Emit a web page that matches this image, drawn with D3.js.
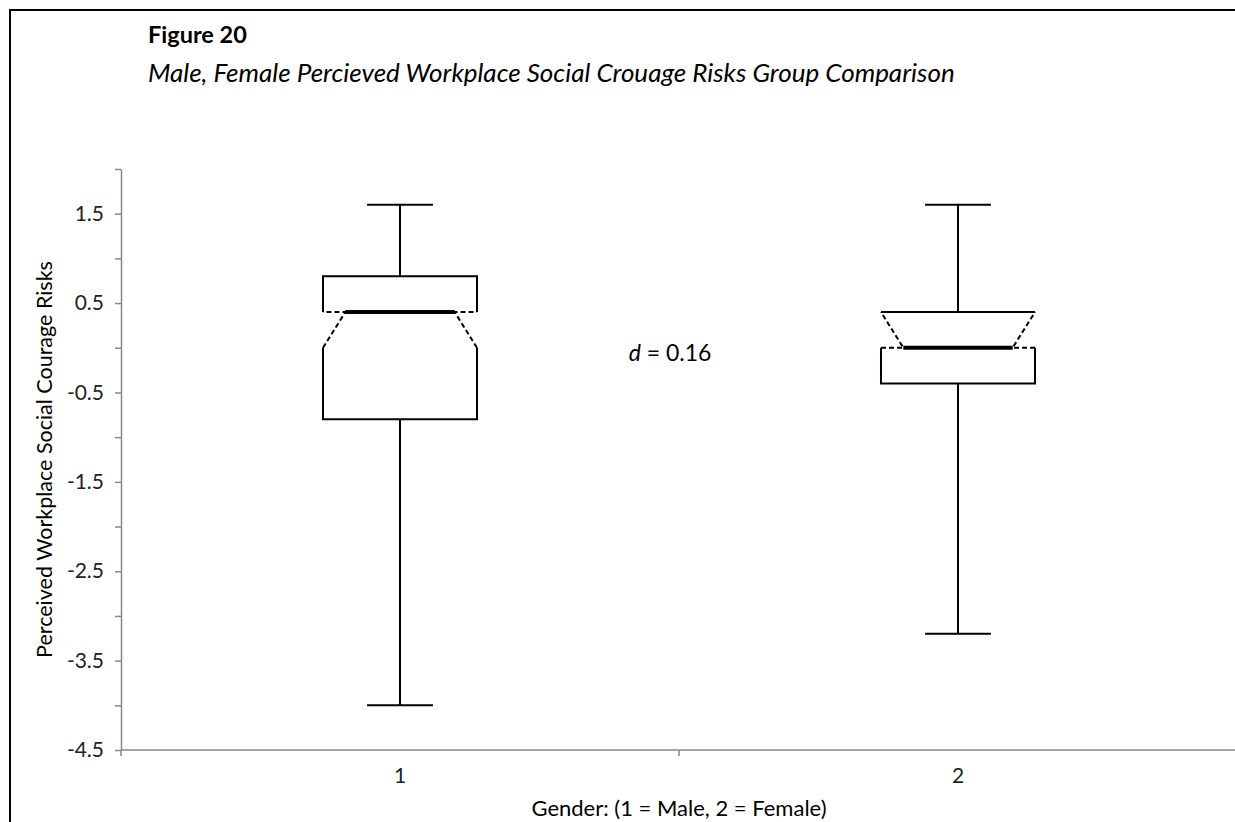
<!DOCTYPE html>
<html>
<head>
<meta charset="utf-8">
<script src="https://cdn.jsdelivr.net/npm/d3@7"></script>
<style>
  body { margin: 0; background: #fff; overflow: hidden; }
  svg { display: block; font-family: Lato, "Open Sans", sans-serif; }
  .axis path, .axis line { stroke: #878787; stroke-width: 1.5; }
  .axis text { fill: #222; font-size: 21px; font-family: Lato, sans-serif; }
</style>
</head>
<body>
<div id="chart"></div>
<script>
// data
const categories = ['1', '2'];
const upperWhisker = [1.6, 1.6];
const q3 = [0.8, 0.4];
const notchHigh = [0.4, 0.4];
const median = [0.4, 0.0];
const notchLow = [0.0, 0.0];
const q1 = [-0.8, -0.4];
const lowerWhisker = [-4.0, -3.2];
const yTicks = [-4.5, -4, -3.5, -3, -2.5, -2, -1.5, -1, -0.5, 0, 0.5, 1, 1.5, 2];
const yTickLabels = ['1.5', '0.5', '-0.5', '-1.5', '-2.5', '-3.5', '-4.5'];

const width = 1235, height = 822;
const margin = [169, 72, 121, -2]; // top, bottom, left, right

const svg = d3.select('#chart').append('svg')
    .attr('width', width)
    .attr('height', height);

// frame of the figure (runs off the right and bottom of the page)
svg.append('rect')
    .attr('x', 10).attr('y', 10)
    .attr('width', width + 40).attr('height', height + 40)
    .attr('fill', 'none').attr('stroke', '#000').attr('stroke-width', 2);

svg.append('text')
    .attr('x', 148).attr('y', 43)
    .style('font-size', '23.5px').style('font-weight', 'bold')
    .text('Figure 20');

svg.append('text')
    .attr('x', 148).attr('y', 82)
    .style('font-size', '26px').style('font-style', 'italic')
    .text('Male, Female Percieved Workplace Social Crouage Risks Group Comparison');

const x = d3.scaleBand()
    .domain(categories)
    .range([margin[2], width - margin[3]])
    .padding(0);

const y = d3.scaleLinear()
    .domain([-4.5, 2])
    .range([height - margin[1], margin[0]]);

// y axis, labels on every other tick, plain hyphen for negatives
const fmt = d3.format('.1f');
svg.append('g')
    .attr('class', 'axis')
    .attr('transform', `translate(${margin[2]},0)`)
    .call(d3.axisLeft(y)
        .tickValues(yTicks)
        .tickSize(6)
        .tickSizeOuter(0)
        .tickPadding(11)
        .tickFormat(d => {
            const s = fmt(d).replace('\u2212', '-');
            return yTickLabels.includes(s) ? s : '';
        }));

// x axis: labels centred in bands, ticks on band boundaries
const xAxis = svg.append('g')
    .attr('class', 'axis')
    .attr('transform', `translate(0,${y(-4.5)})`)
    .call(d3.axisBottom(x).tickSize(0).tickSizeOuter(0).tickPadding(18));
xAxis.select('.domain').remove();
xAxis.append('line')
    .attr('x1', x.range()[0]).attr('x2', x.range()[1])
    .attr('stroke', '#878787').attr('stroke-width', 1.5);
const bounds = categories.map(c => x(c)).concat([x.range()[1]]);
xAxis.selectAll('.bound')
    .data(bounds)
    .join('line')
    .attr('class', 'bound')
    .attr('x1', d => d).attr('x2', d => d)
    .attr('y1', 0).attr('y2', 6);

// axis titles
svg.append('text')
    .attr('transform', `translate(52,${(y(2) + y(-4.5)) / 2})rotate(-90)`)
    .attr('text-anchor', 'middle')
    .style('font-size', '21.5px')
    .text('Perceived Workplace Social Courage Risks');

svg.append('text')
    .attr('x', x.range()[0] + x.bandwidth())
    .attr('y', 816)
    .attr('text-anchor', 'middle')
    .style('font-size', '22px')
    .text('Gender: (1 = Male, 2 = Female)');

// notched boxes
const bw = x.bandwidth();
const boxW = bw * 0.276, capW = bw * 0.118, notchIn = bw * 0.04;
const plot = svg.append('g');

categories.forEach((c, i) => {
    const cx = x(c) + bw / 2;
    const L = cx - boxW / 2, R = cx + boxW / 2;
    const g = plot.append('g')
        .attr('fill', 'none').attr('stroke', '#000').attr('stroke-width', 2);

    // whiskers
    g.append('line').attr('x1', cx).attr('x2', cx)
        .attr('y1', y(upperWhisker[i])).attr('y2', y(q3[i]));
    g.append('line').attr('x1', cx).attr('x2', cx)
        .attr('y1', y(q1[i])).attr('y2', y(lowerWhisker[i]));
    g.append('line').attr('x1', cx - capW / 2).attr('x2', cx + capW / 2)
        .attr('y1', y(upperWhisker[i])).attr('y2', y(upperWhisker[i]));
    g.append('line').attr('x1', cx - capW / 2).attr('x2', cx + capW / 2)
        .attr('y1', y(lowerWhisker[i])).attr('y2', y(lowerWhisker[i]));

    // solid parts of the box
    g.append('path').attr('d', d3.line()([
        [L, y(notchHigh[i])], [L, y(q3[i])], [R, y(q3[i])], [R, y(notchHigh[i])]
    ]));
    g.append('path').attr('d', d3.line()([
        [L, y(notchLow[i])], [L, y(q1[i])], [R, y(q1[i])], [R, y(notchLow[i])]
    ]));

    // dashed notch sides
    [[L, L + notchIn], [R, R - notchIn]].forEach(([edge, inner]) => {
        g.append('path')
            .attr('stroke-dasharray', '5,3')
            .attr('d', d3.line()([
                [edge, y(notchLow[i])], [inner, y(median[i])], [edge, y(notchHigh[i])]
            ]));
    });

    // median
    g.append('line')
        .attr('x1', L + notchIn).attr('x2', R - notchIn)
        .attr('y1', y(median[i])).attr('y2', y(median[i]))
        .attr('stroke-width', 4);
});

// effect size note
const note = svg.append('text')
    .attr('x', x.range()[0] + bw - 9)
    .attr('y', y(0) + 13)
    .attr('text-anchor', 'middle')
    .style('font-size', '23px');
note.append('tspan').style('font-style', 'italic').text('d');
note.append('tspan').text(' = 0.16');
</script>
</body>
</html>
